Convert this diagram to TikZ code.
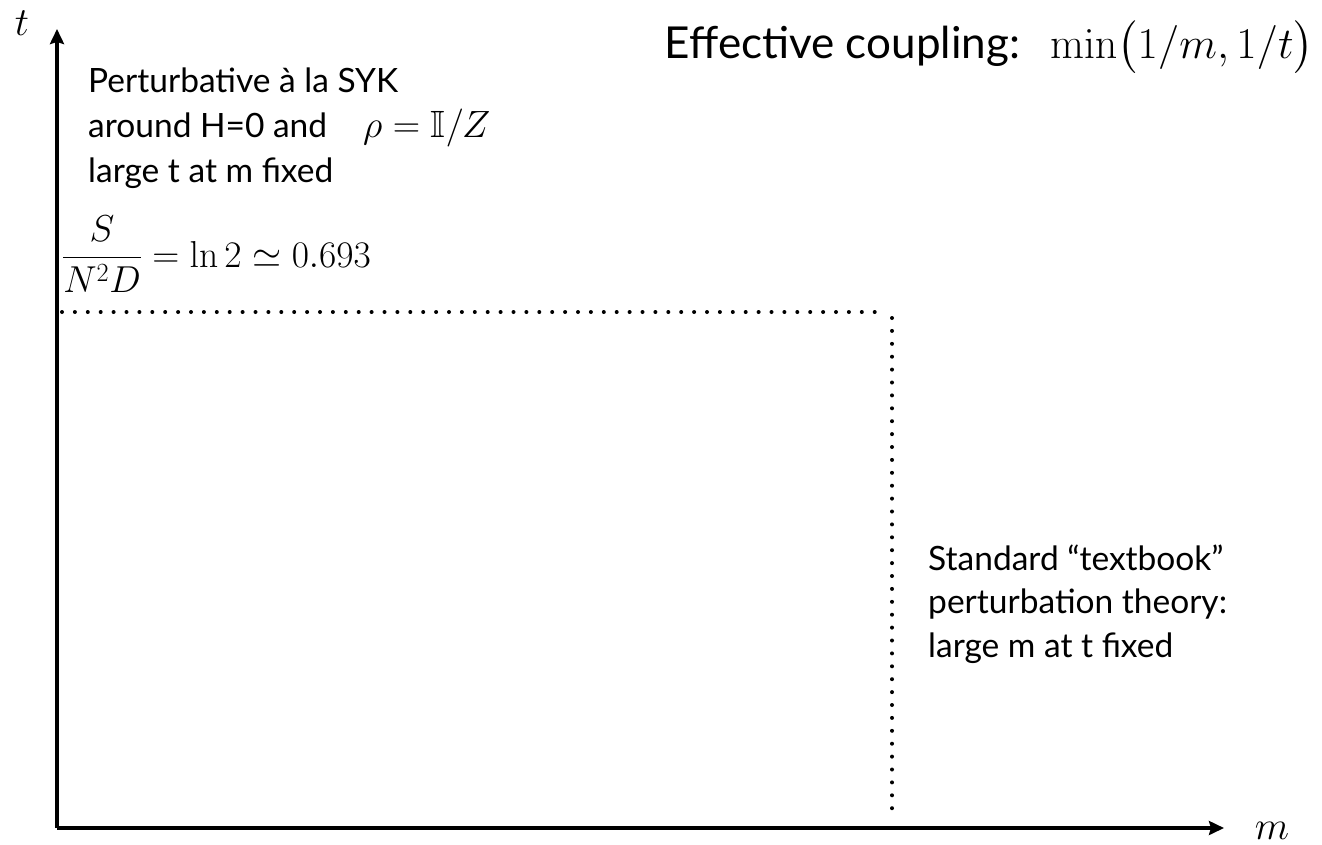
\documentclass[tikz,border=0pt]{standalone}
\usepackage{fix-cm}
\usepackage{amsmath,amssymb}
\usepackage[no-math]{fontspec}
\setmainfont{Lato}
\usetikzlibrary{arrows.meta}
\newcommand{\inlinemath}[1]{{\fontsize{38}{44}\selectfont$#1$}}
\begin{document}
\begin{tikzpicture}[x=1pt,y=-1pt,
  axis/.style={line width=3.2pt,-{Stealth[length=15pt,width=14pt,inset=2pt]}},
  dotline/.style={line width=4pt,line cap=round,dash pattern=on 0pt off 12.9pt},
  lbl/.style={inner sep=0pt,anchor=base west,font=\fontsize{33.5}{40}\selectfont},
  axlbl/.style={inner sep=0pt,anchor=base,font=\fontsize{40}{48}\selectfont}]
\useasboundingbox (0,0) rectangle (1322,844);
% axes
\coordinate (O) at (57,828);
\coordinate (ttip) at (57,29);
\coordinate (mtip) at (1224,828);
\draw[axis] (O) -- (ttip);
\draw[axis] (O) -- (mtip);
\node[axlbl] (tl) at (22,35) {$t$};
\node[axlbl] (ml) at (1272,839) {$m$};
% dotted boundary between the two regimes
\coordinate (h1) at (62,312);
\coordinate (h2) at (884,312);
\coordinate (v1) at (892,318);
\coordinate (v2) at (892,820);
\draw[dotline] (h1) -- (h2);
\draw[dotline] (v1) -- (v2);
% title
\node[inner sep=0pt,anchor=base east] (title) at (1314,58)
  {\fontsize{44}{50}\selectfont Effective coupling:\hspace{30pt}$\min\bigl(1/m,1/t\bigr)$};
% regime at large t
\node[lbl] (syk1) at (88,92) {Perturbative à la SYK};
\node[lbl] (syk2) at (88,137) {around H=0 and\hspace{36pt}\inlinemath{\rho=\mathbb{I}/Z}};
\node[lbl] (syk3) at (88,182) {large t at m fixed};
\node[inner sep=0pt,anchor=base west,font=\fontsize{37.5}{44}\selectfont] (ent) at (62,267)
  {$\dfrac{S}{N^2D}=\ln 2\simeq 0.693$};
% regime at large m
\node[lbl] (std1) at (928,570) {Standard “textbook”};
\node[lbl] (std2) at (928,613) {perturbation theory:};
\node[lbl] (std3) at (928,657) {large m at t fixed};
\end{tikzpicture}
\end{document}
